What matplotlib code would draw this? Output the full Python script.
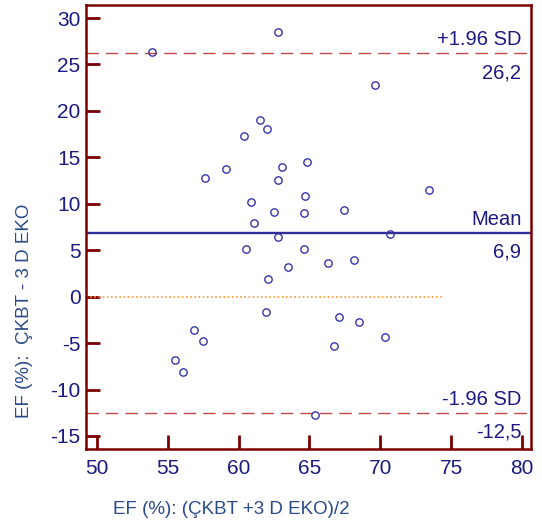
import matplotlib.pyplot as plt

plt.rcParams['font.family'] = ['Liberation Sans', 'DejaVu Sans']
plt.rcParams['axes.unicode_minus'] = False

# Bland-Altman data: mean of two methods vs difference
mean_ef = [53.9, 62.8, 69.65, 61.5, 62.0, 60.4, 59.1, 57.6, 63.05, 62.75,
           64.8, 73.4, 60.9, 64.7, 62.5, 64.6, 67.4, 61.05, 62.8, 70.7,
           60.5, 64.6, 63.5, 66.3, 68.15, 62.1, 61.9, 67.1, 68.5, 56.85,
           57.5, 70.3, 66.7, 55.5, 56.1, 65.4]
diff_ef = [26.3, 28.5, 22.8, 19.0, 18.1, 17.3, 13.7, 12.8, 14.0, 12.6,
           14.5, 11.5, 10.2, 10.8, 9.1, 9.0, 9.3, 7.9, 6.45, 6.8,
           5.1, 5.1, 3.2, 3.6, 3.9, 1.9, -1.65, -2.2, -2.7, -3.6,
           -4.75, -4.35, -5.3, -6.85, -8.1, -12.7]

mean_diff = 6.9
upper_loa = 26.2
lower_loa = -12.5

x_ticks = [50, 55, 60, 65, 70, 75, 80]
y_ticks = [-15, -10, -5, 0, 5, 10, 15, 20, 25, 30]

navy = '#1a1a80'
label_blue = '#2a4a8a'
spine_red = '#7a0000'

fig = plt.figure(figsize=(5.42, 5.27), dpi=100)
ax = fig.add_axes([0.1587, 0.148, 0.821, 0.8425])

ax.set_xlim(49.23, 80.63)
ax.set_ylim(-16.4, 31.4)

# reference lines
ax.axhline(upper_loa, color='#c04848', lw=1, dashes=(9, 5))
ax.axhline(lower_loa, color='#c04848', lw=1, dashes=(9, 5))
ax.axhline(mean_diff, color='#2e2e99', lw=1.7)
ax.plot([49.23, 74.5], [0, 0], color='#ff9a33', lw=1.2, ls=(0, (1, 1.5)))

ax.plot(mean_ef, diff_ef, 'o', mfc='none', mec='#3535a8', mew=1, ms=5.3)

# line labels
def line_label(y, top, bottom):
    ax.annotate(top, (79.95, y), xytext=(0, 8), textcoords='offset pixels',
                ha='right', va='baseline', fontsize=14.5, color=navy)
    ax.annotate(bottom, (79.95, y), xytext=(0, -10), textcoords='offset pixels',
                ha='right', va='top', fontsize=14.5, color=navy)

line_label(upper_loa, '+1.96 SD', '26,2')
line_label(mean_diff, 'Mean', '6,9')
line_label(lower_loa, '-1.96 SD', '-12,5')

ax.set_xticks(x_ticks)
ax.set_yticks(y_ticks)
ax.tick_params(direction='in', length=10, width=2, color=spine_red,
               labelcolor=navy, labelsize=15)
ax.tick_params(axis='y', pad=4)
ax.tick_params(axis='x', pad=7)
for s in ax.spines.values():
    s.set_color(spine_red)
    s.set_linewidth(1.8)

fig.text(231 / 542, 1 - 510 / 527, 'EF (%): (ÇKBT +3 D EKO)/2', ha='center',
         va='center', fontsize=13.5, color=label_blue)
fig.text(25 / 542, 1 - 311 / 527, 'EF (%):  ÇKBT - 3 D EKO', ha='center',
         va='center', rotation=90, fontsize=13.5, color=label_blue)

plt.savefig('out.png', dpi=100)
